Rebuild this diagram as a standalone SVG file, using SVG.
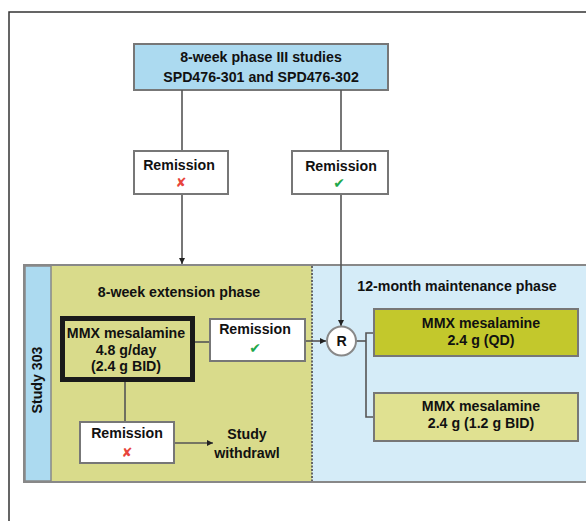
<svg xmlns="http://www.w3.org/2000/svg" width="586" height="521" viewBox="0 0 586 521">
<defs>
<style>
.t{font-family:"Liberation Sans",Arial,sans-serif;font-weight:bold;font-size:14.2px;fill:#111;text-anchor:middle;dominant-baseline:central}
.box{stroke:#777;stroke-width:2}
.c{fill:none;stroke:#555;stroke-width:1.6}
.x{font-family:"DejaVu Sans",sans-serif;font-size:13px;fill:#e8453c;text-anchor:middle;dominant-baseline:central}
.ck{font-family:"DejaVu Sans",sans-serif;font-size:14px;fill:#1ea84c;text-anchor:middle;dominant-baseline:central}
</style>
<marker id="ar" viewBox="0 0 10 10" refX="10" refY="5" markerWidth="6" markerHeight="6" orient="auto" markerUnits="userSpaceOnUse">
<path d="M0,0 L10,5 L0,10 z" fill="#222"/>
</marker>
</defs>
<rect x="0" y="0" width="586" height="521" fill="#fff"/>
<rect x="9" y="12" width="600" height="540" fill="none" stroke="#333" stroke-width="1.5"/>

<g id="study303">
<rect x="24" y="265" width="600" height="217" fill="#d5ecf8" stroke="#888" stroke-width="2"/>
<rect x="51" y="266" width="261" height="215" fill="#d9db8b"/>
<rect x="25" y="266" width="26" height="215" fill="#acdaf0" stroke="#888" stroke-width="1.5"/>
<line x1="312" y1="266" x2="312" y2="481" stroke="#666" stroke-width="2" stroke-dasharray="2,1.5"/>
<text class="t" transform="translate(37,380) rotate(-90)">Study 303</text>
<text class="t" x="179" y="292">8-week extension phase</text>
<text class="t" x="457" y="286">12-month maintenance phase</text>
</g>

<g id="top">
<rect class="box" x="134" y="44" width="254" height="46" fill="#acdaf0"/>
<text class="t" x="261" y="57">8-week phase III studies</text>
<text class="t" x="261" y="77">SPD476-301 and SPD476-302</text>
</g>

<g id="connectors">
<line class="c" x1="182" y1="90" x2="182" y2="151"/>
<line class="c" x1="182" y1="194" x2="182" y2="264" marker-end="url(#ar)"/>
<line class="c" x1="341" y1="90" x2="341" y2="151"/>
<line class="c" x1="341" y1="194" x2="341" y2="326" marker-end="url(#ar)"/>
<line class="c" x1="194" y1="342" x2="210" y2="342"/>
<line class="c" x1="305" y1="341" x2="326" y2="341" marker-end="url(#ar)"/>
<line class="c" x1="125" y1="381" x2="125" y2="422"/>
<line class="c" x1="174" y1="443" x2="213" y2="443" marker-end="url(#ar)"/>
<polyline class="c" points="356,341 366,341"/>
<polyline class="c" points="374,333 366,333 366,417 374,417"/>
</g>

<g id="rem1">
<rect class="box" x="134" y="151" width="94" height="43" fill="#fff"/>
<text class="t" x="179" y="165">Remission</text>
<text class="x" x="181" y="182">✘</text>
</g>

<g id="rem2">
<rect class="box" x="292" y="151" width="96" height="43" fill="#fff"/>
<text class="t" x="341" y="166">Remission</text>
<text class="ck" x="339" y="183">✔</text>
</g>

<g id="mmx48">
<rect x="62.5" y="318.5" width="130" height="61" fill="#d9db8b" stroke="#1a1a1a" stroke-width="5"/>
<text class="t" x="126" y="333">MMX mesalamine</text>
<text class="t" x="126" y="350">4.8 g/day</text>
<text class="t" x="126" y="366">(2.4 g BID)</text>
</g>

<g id="rem3">
<rect class="box" x="210" y="319" width="95" height="42" fill="#fff"/>
<text class="t" x="255" y="329">Remission</text>
<text class="ck" x="255" y="348">✔</text>
</g>

<g id="rem4">
<rect class="box" x="80" y="422" width="94" height="41" fill="#fff"/>
<text class="t" x="127" y="433">Remission</text>
<text class="x" x="127" y="452">✘</text>
</g>

<g id="withdrawal">
<text class="t" x="247" y="434">Study</text>
<text class="t" x="247" y="453">withdrawl</text>
</g>

<g id="R">
<circle cx="341.5" cy="341" r="14.5" fill="#fff" stroke="#888" stroke-width="2"/>
<text class="t" x="341.5" y="341">R</text>
</g>

<g id="qd">
<rect class="box" x="374" y="309" width="204" height="47" fill="#c3c82c"/>
<text class="t" x="481" y="323">MMX mesalamine</text>
<text class="t" x="481" y="340">2.4 g (QD)</text>
</g>

<g id="bid">
<rect class="box" x="374" y="393" width="204" height="48" fill="#e0e191"/>
<text class="t" x="481" y="406">MMX mesalamine</text>
<text class="t" x="481" y="423">2.4 g (1.2 g BID)</text>
</g>
</svg>
